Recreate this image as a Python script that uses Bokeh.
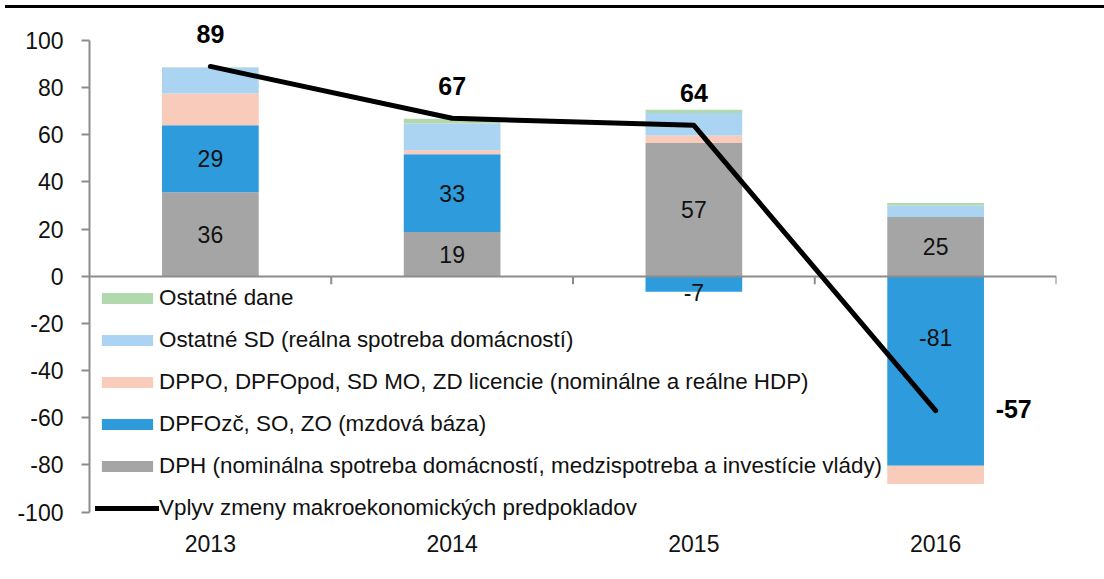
import numpy as np
from bokeh.plotting import figure
from bokeh.models import Legend, LegendItem, FixedTicker, Range1d, Div
from bokeh.layouts import column
from bokeh.core.properties import value
from bokeh.embed import file_html
from bokeh.resources import INLINE

# ---------------- data ----------------
years = ["2013", "2014", "2015", "2016"]
dph = [35.6, 18.8, 56.5, 25.1]
dpfo = [28.4, 33.0, -6.6, -80.4]
dppo = [13.5, 1.6, 3.2, -7.7]
ostatne_sd = [10.9, 11.4, 9.5, 4.9]
ostatne_dane = [0.2, 2.0, 1.4, 1.1]
vplyv = [89, 67, 64, -57]
dph_labels = ["36", "19", "57", "25"]
dpfo_labels = ["29", "33", "-7", "-81"]
dpfo_label_y = [None, None, -7.0, -26.0]  # labels moved by hand in the original
y_ticks = list(range(-100, 101, 20))

names = [
    "DPH (nominálna spotreba domácností, medzispotreba a investície vlády)",
    "DPFOzč, SO, ZO (mzdová báza)",
    "DPPO, DPFOpod, SD MO, ZD licencie (nominálne a reálne HDP)",
    "Ostatné SD (reálna spotreba domácností)",
    "Ostatné dane",
]
line_name = "Vplyv zmeny makroekonomických predpokladov"
series = [dph, dpfo, dppo, ostatne_sd, ostatne_dane]
colors = ["#A5A5A5", "#2E9BDC", "#F8CBBB", "#ABD3F2", "#B2D9AE"]

FONT = "Liberation Sans"
AXIS_GRAY = "#8C8C8C"

x = np.arange(len(years)) + 0.5

p = figure(
    frame_width=967, frame_height=505,
    min_border_left=89, min_border_right=20, min_border_top=3, min_border_bottom=40,
    x_range=Range1d(0, len(years)), y_range=Range1d(-104, 110.17),
    output_backend="svg", toolbar_location=None,
)
p.outline_line_color = None
p.xgrid.visible = False
p.ygrid.visible = False
p.background_fill_color = "white"
p.border_fill_color = "white"

# stacked bars with separate positive / negative stacks
pos = np.zeros(len(years))
neg = np.zeros(len(years))
rends = []
mids = []
for vals, color in zip(series, colors):
    v = np.array(vals, dtype=float)
    bottom = np.where(v >= 0, pos, neg)
    top = bottom + v
    pos = np.where(v >= 0, top, pos)
    neg = np.where(v < 0, top, neg)
    r = p.vbar(x=x, bottom=bottom, top=top, width=0.4,
               fill_color=color, line_color=None)
    rends.append(r)
    mids.append((bottom + top) / 2)

# zero line and category boundary ticks
p.hspan(y=[0], line_color=AXIS_GRAY, line_width=2)
p.ray(x=np.arange(1, len(years) + 1), y=0, length=8, length_units="screen",
      angle=-np.pi / 2, line_color=AXIS_GRAY, line_width=2)

# line
lr = p.line(x=x, y=vplyv, line_color="black", line_width=5,
            line_join="round", line_cap="round")

# segment labels
p.text(x=x, y=mids[0], text=dph_labels, text_font=value(FONT),
       text_font_size="23px", text_align="center", text_baseline="middle",
       text_color="#111111")
dpfo_y = [ly if ly is not None else m for ly, m in zip(dpfo_label_y, mids[1])]
p.text(x=x, y=dpfo_y, text=dpfo_labels, text_font=value(FONT),
       text_font_size="23px", text_align="center", text_baseline="middle",
       text_color="#111111")

# line value labels
vl = [str(v) for v in vplyv]
p.text(x=x[:3], y=vplyv[:3], text=vl[:3], text_font=value(FONT),
       text_font_size="25px", text_font_style="bold", text_align="center",
       text_baseline="middle", y_offset=-32, text_color="black")
p.text(x=x[3:], y=vplyv[3:], text=vl[3:], text_font=value(FONT),
       text_font_size="25px", text_font_style="bold", text_align="left",
       text_baseline="middle", x_offset=60, y_offset=-2, text_color="black")

# axes
ya = p.yaxis[0]
ya.ticker = FixedTicker(ticks=y_ticks)
ya.major_label_overrides = {t: str(t) for t in y_ticks}
ya.bounds = (-100, 100)
ya.axis_line_color = AXIS_GRAY
ya.axis_line_width = 2
ya.major_tick_line_color = AXIS_GRAY
ya.major_tick_line_width = 2
ya.major_tick_out = 8
ya.major_tick_in = 0
ya.minor_tick_line_color = None
ya.major_label_standoff = 18
ya.major_label_text_font = FONT
ya.major_label_text_font_size = "23px"
ya.major_label_text_color = "#111111"

xa = p.xaxis[0]
xa.ticker = FixedTicker(ticks=list(x))
xa.major_label_overrides = {float(xx): y for xx, y in zip(x, years)}
xa.axis_line_color = None
xa.major_tick_line_color = None
xa.minor_tick_line_color = None
xa.major_label_standoff = 7
xa.major_label_text_font = FONT
xa.major_label_text_font_size = "23px"
xa.major_label_text_color = "#111111"

# legend
items = [LegendItem(label=names[4], renderers=[rends[4]]),
         LegendItem(label=names[3], renderers=[rends[3]]),
         LegendItem(label=names[2], renderers=[rends[2]]),
         LegendItem(label=names[1], renderers=[rends[1]]),
         LegendItem(label=names[0], renderers=[rends[0]]),
         LegendItem(label=line_name, renderers=[lr])]
legend = Legend(items=items, location=(6, 0))
legend.border_line_color = None
legend.background_fill_alpha = 0
legend.padding = 0
legend.margin = 0
legend.spacing = 16
legend.glyph_width = 64
legend.glyph_height = 14
legend.label_height = 20
legend.label_standoff = 0
legend.label_text_font = FONT
legend.label_text_font_size = "22.4px"
legend.label_text_color = "#111111"
p.add_layout(legend)

rule = Div(text="", width=1104, height=3, styles={"background-color": "#000000"})
layout = column(rule, p, spacing=0)

open("out.html", "w").write(file_html(layout, INLINE))
